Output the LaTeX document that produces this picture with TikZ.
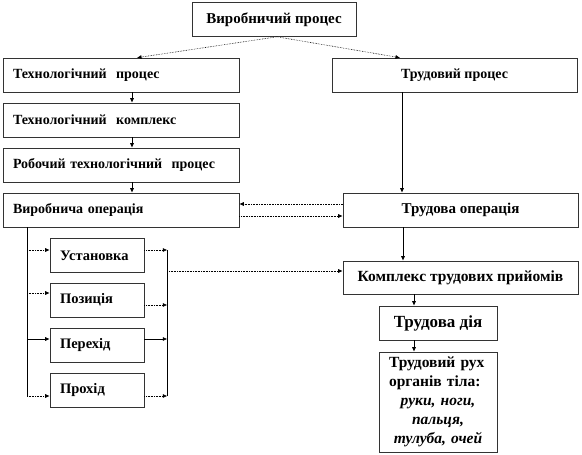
\documentclass[tikz,border=0pt]{standalone}
\usepackage{fontspec}
\setmainfont{Liberation Serif}
\usetikzlibrary{arrows.meta}

\newcommand{\bsz}[1]{\fontsize{#1}{19}\selectfont\bfseries}

\tikzset{
  box/.style={draw=black!80, line width=0.6pt, inner xsep=10pt, inner ysep=0pt,
    minimum height=34pt, font=\bsz{14}},
  lbox/.style={box, text width=216pt, align=left},
  sbox/.style={box, text width=74pt, align=left, font=\bsz{14.5}},
  cbox/.style={box, align=center},
  lnk/.style={-{Latex[length=4.5pt,width=4pt]}, line width=0.6pt},
  dots/.style={densely dotted}
}

\begin{document}
\begin{tikzpicture}[x=1pt,y=-1pt]
\useasboundingbox (0,0) rectangle (582,455);
% left column
\node[cbox, minimum width=164pt, font=\bsz{15}] (vp) at (274,19.5) {Виробничий процес};
\node[lbox] (tp) at (121,75) {Технологічний \ процес};
\node[lbox] (tk) at (121,120) {Технологічний \ комплекс};
\node[lbox] (rtp) at (121,165) {Робочий технологічний \ процес};
\node[lbox] (vo) at (121,210) {Виробнича операція};
\node[sbox] (ust) at (97,255.5) {Установка};
\node[sbox] (poz) at (97,300) {Позиція};
\node[sbox] (per) at (97,345) {Перехід};
\node[sbox] (proh) at (97,390) {Прохід};
% right column
\node[cbox, minimum width=245pt] (trp) at (454.5,75) {Трудовий процес};
\node[cbox, minimum width=235pt, font=\bsz{15}] (tro) at (460.5,210) {Трудова операція};
\node[cbox, minimum width=235pt, minimum height=33pt, font=\bsz{15.5}] (ktp) at (460.5,277.5) {Комплекс трудових прийомів};
\node[cbox, minimum width=118pt, font=\bsz{17}] (td) at (438,323) {Трудова дія};
\node[box, text width=98pt, minimum height=100pt, align=center, font=\bsz{15.5}] (tr) at (438,402)
  {Трудовий рух\hfill\null\\органів тіла:\hfill\null\\\textit{руки, ноги,}\\\textit{пальця,}\\\textit{тулуба, очей}};

% connectors
\draw[lnk,dots] ([xshift=3pt]vp.south) -- ([xshift=16pt]tp.north);
\draw[lnk,dots] ([xshift=3pt]vp.south) -- ([xshift=-54.5pt]trp.north);
\foreach \a/\b in {tp/tk, tk/rtp, rtp/vo}
  \draw[lnk] ([xshift=11pt]\a.south) -- ([xshift=11pt]\b.north);
\draw[lnk] ([xshift=-52.5pt]trp.south) coordinate (t1) -- (t1 |- tro.north);
\draw[lnk] ([xshift=-57.5pt]tro.south) -- ([xshift=-57.5pt]ktp.north);
\draw[lnk] ([xshift=-46.5pt]ktp.south) -- ([xshift=-24pt]td.north);
\draw[lnk] ([xshift=-24pt]td.south) -- ([xshift=-24pt]tr.north);
\draw[lnk,dots] ([yshift=6pt]tro.west) -- ([yshift=6pt]vo.east);
\draw[lnk,dots] ([yshift=-6pt]vo.east) -- ([yshift=-6pt]tro.west);

% branches of the operation
\coordinate (lt) at ([xshift=-94pt]vo.south);
\coordinate (rt) at ([xshift=23pt]ust.east);
\foreach \n/\o/\s in {ust/5.5/dots, poz/7/dots, per/6/solid, proh/-6/dots} {
  \coordinate (\n-in) at ([yshift=\o pt]\n.west);
  \draw[lnk,\s] (lt |- \n-in) -- (\n-in);
}
\foreach \n/\o/\s in {ust/5.5/dots, poz/-5/dots, per/6/solid, proh/-6/dots} {
  \coordinate (\n-out) at ([yshift=\o pt]\n.east);
  \draw[lnk,\s] (\n-out) -- (rt |- \n-out);
}
\draw[line width=0.6pt] (lt) -- (lt |- proh-in);
\draw[line width=0.6pt] (rt |- ust-out) -- (rt |- proh-out);
\coordinate (kin) at ([yshift=6.5pt]ktp.west);
\draw[lnk,dots] (rt |- kin) -- (kin);
\end{tikzpicture}
\end{document}
